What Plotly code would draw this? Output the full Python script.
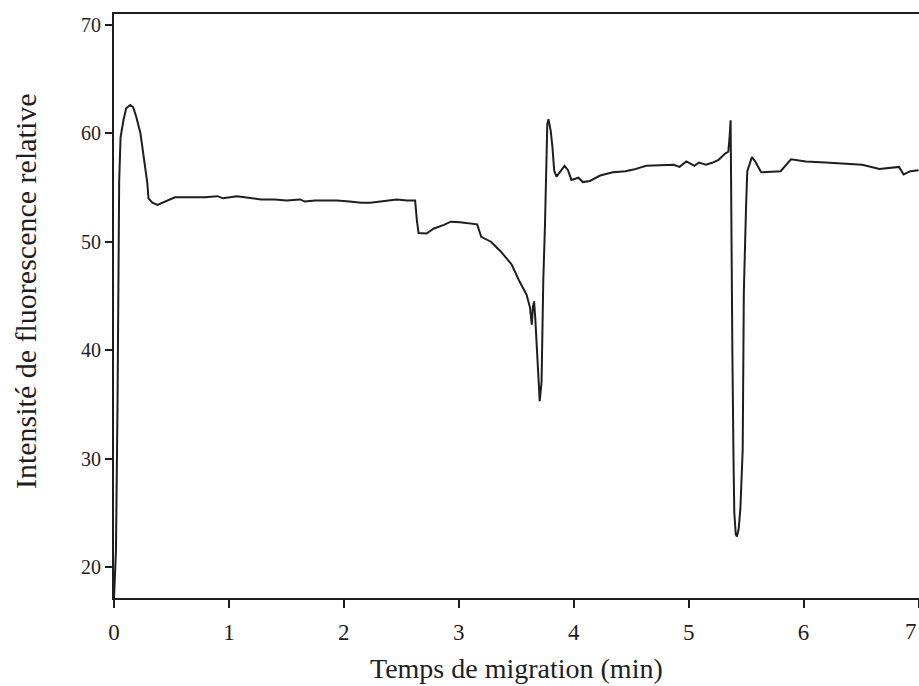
import plotly.graph_objects as go

# Electropherogram trace
time_min = [
    0.000, 0.017, 0.031, 0.038, 0.045, 0.057, 0.082, 0.106, 0.141, 0.167,
    0.194, 0.230, 0.260, 0.290, 0.300, 0.334, 0.378, 0.440, 0.530, 0.650,
    0.790, 0.900, 0.950, 1.070, 1.200, 1.280, 1.400, 1.500, 1.620, 1.660,
    1.750, 1.940, 2.050, 2.150, 2.230, 2.300, 2.400, 2.460, 2.550, 2.620,
    2.635, 2.650, 2.720, 2.780, 2.870, 2.930, 3.010, 3.100, 3.160, 3.195,
    3.280, 3.365, 3.460, 3.530, 3.590, 3.620, 3.635, 3.645, 3.655, 3.665,
    3.677, 3.696, 3.704, 3.720, 3.730, 3.735, 3.750, 3.760, 3.765, 3.770,
    3.780, 3.800, 3.815, 3.830, 3.850, 3.880, 3.920, 3.950, 3.980, 4.040,
    4.080, 4.140, 4.230, 4.340, 4.450, 4.520, 4.630, 4.870, 4.920, 4.980,
    5.050, 5.090, 5.150, 5.210, 5.260, 5.320, 5.345, 5.355, 5.365, 5.368,
    5.372, 5.380, 5.390, 5.397, 5.410, 5.420, 5.435, 5.450, 5.470, 5.480,
    5.500, 5.510, 5.550, 5.580, 5.630, 5.800, 5.890, 6.020, 6.190, 6.420,
    6.510, 6.660, 6.750, 6.830, 6.870, 6.930, 7.000,
]
intensity = [
    17.1, 21.5, 35.3, 49.2, 55.5, 59.6, 61.2, 62.3, 62.6, 62.4,
    61.5, 60.0, 57.8, 55.4, 54.0, 53.6, 53.4, 53.7, 54.1, 54.1,
    54.1, 54.2, 54.0, 54.2, 54.0, 53.9, 53.9, 53.8, 53.9, 53.7,
    53.8, 53.8, 53.7, 53.6, 53.6, 53.7, 53.8, 53.9, 53.8, 53.8,
    52.0, 50.8, 50.75, 51.2, 51.55, 51.85, 51.8, 51.7, 51.6, 50.45,
    50.0, 49.1, 47.9, 46.3, 45.1, 43.9, 42.35, 44.0, 44.5, 43.0,
    40.2, 36.5, 35.3, 37.1, 43.3, 46.4, 51.6, 56.2, 57.2, 60.85,
    61.3, 60.2, 58.7, 56.55, 56.0, 56.4, 57.0, 56.6, 55.7, 55.9,
    55.5, 55.6, 56.1, 56.4, 56.5, 56.65, 57.0, 57.1, 56.9, 57.4,
    57.0, 57.3, 57.1, 57.3, 57.55, 58.15, 58.3, 59.5, 61.2, 57.0,
    50.0, 40.0, 30.0, 25.0, 23.0, 22.8, 23.5, 25.4, 30.8, 45.4,
    53.5, 56.5, 57.8, 57.4, 56.4, 56.5, 57.6, 57.4, 57.3, 57.2,
    57.1, 56.7, 56.8, 56.9, 56.2, 56.5, 56.6,
]

x_ticks = [0, 1, 2, 3, 4, 5, 6, 7]
y_ticks = [20, 30, 40, 50, 60, 70]
x_title = "Temps de migration (min)"
y_title = "Intensité de fluorescence relative"

serif = "Liberation Serif"
ink = "#1e1e1e"

# last x tick label sits at the right edge: drawn as a right-anchored annotation
x_ticktext = [str(v) for v in x_ticks[:-1]] + [""]

fig = go.Figure()
fig.add_trace(go.Scatter(
    x=time_min, y=intensity, mode="lines",
    line=dict(color=ink, width=2),
    showlegend=False, hoverinfo="skip",
))

fig.update_layout(
    width=919, height=686,
    margin=dict(l=114, r=0, t=14, b=88, autoexpand=False),
    paper_bgcolor="white", plot_bgcolor="white",
    xaxis=dict(
        range=[0, 7.004], tickvals=x_ticks, ticktext=x_ticktext,
        showgrid=False, zeroline=False, automargin=False,
        showline=True, linecolor=ink, linewidth=2, mirror=True,
        ticks="outside", ticklen=8, tickwidth=1.5, tickcolor=ink,
        ticklabelstandoff=4,
        tickfont=dict(family=serif, size=23, color=ink),
    ),
    yaxis=dict(
        range=[17.14, 71.0], tickvals=y_ticks, ticktext=[str(v) for v in y_ticks],
        showgrid=False, zeroline=False, automargin=False,
        showline=True, linecolor=ink, linewidth=2, mirror=False,
        ticks="outside", ticklen=7, tickwidth=1.5, tickcolor=ink,
        tickfont=dict(family=serif, size=20, color=ink),
    ),
    annotations=[
        dict(text=str(x_ticks[-1]), xref="x", yref="paper", x=x_ticks[-1], y=-0.058,
             xanchor="right", yanchor="middle", showarrow=False,
             font=dict(family=serif, size=23, color=ink)),
        dict(text=x_title, xref="paper", yref="paper", x=0.5, y=-0.12,
             xanchor="center", yanchor="middle", showarrow=False,
             font=dict(family=serif, size=28, color=ink)),
        dict(text=y_title, xref="paper", yref="paper", x=-0.1106, y=0.5255,
             xanchor="center", yanchor="middle", showarrow=False, textangle=-90,
             font=dict(family=serif, size=30, color=ink)),
    ],
)

fig.write_html("out.html")
